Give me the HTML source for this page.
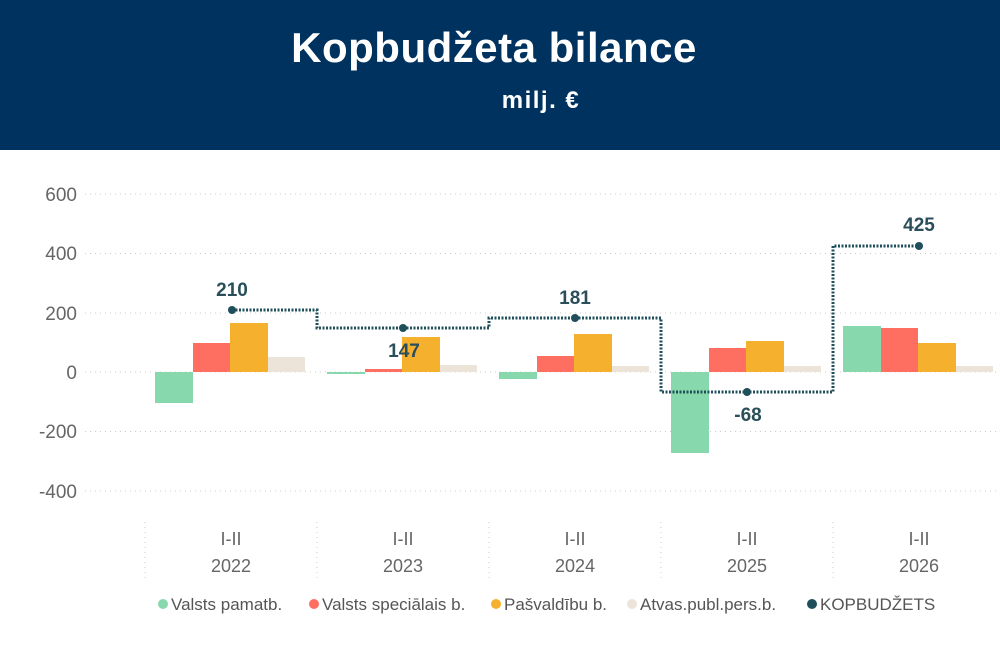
<!DOCTYPE html>
<html><head><meta charset="utf-8"><style>
html,body{margin:0;padding:0;background:#fff;}
svg{display:block;font-family:"Liberation Sans","DejaVu Sans",sans-serif;}
</style></head><body>
<svg width="1000" height="667" viewBox="0 0 1000 667">
<rect x="0" y="0" width="1000" height="150" fill="#00325F"/>
<text x="494" y="62" text-anchor="middle" fill="#fff" font-size="42" font-weight="bold" letter-spacing="0.5">Kopbudžeta bilance</text>
<text x="541" y="108" text-anchor="middle" fill="#fff" font-size="24" font-weight="bold" letter-spacing="1.5">milj. €</text>
<g stroke="#ccc" stroke-dasharray="1 4" stroke-width="1">
<line x1="85" y1="194" x2="1000" y2="194"/>
<line x1="85" y1="253.5" x2="1000" y2="253.5"/>
<line x1="85" y1="313" x2="1000" y2="313"/>
<line x1="85" y1="372" x2="1000" y2="372"/>
<line x1="85" y1="431.5" x2="1000" y2="431.5"/>
<line x1="85" y1="491" x2="1000" y2="491"/>
<line x1="145" y1="522" x2="145" y2="580"/>
<line x1="317" y1="522" x2="317" y2="580"/>
<line x1="489" y1="522" x2="489" y2="580"/>
<line x1="661" y1="522" x2="661" y2="580"/>
<line x1="833" y1="522" x2="833" y2="580"/>
</g>
<g fill="#666" font-size="19" text-anchor="end">
<text x="77" y="201">600</text><text x="77" y="260">400</text><text x="77" y="320">200</text>
<text x="77" y="379">0</text><text x="77" y="438">-200</text><text x="77" y="498">-400</text>
</g>
<g>
<rect x="155" y="372" width="38" height="31" fill="#88D8AD"/>
<rect x="193" y="343" width="37" height="29" fill="#FF6F61"/>
<rect x="230" y="323" width="38" height="49" fill="#F5B02E"/>
<rect x="268" y="357" width="37" height="15" fill="#EDE4D9"/>
<rect x="327" y="372" width="38" height="2" fill="#88D8AD"/>
<rect x="365" y="369" width="37" height="3" fill="#FF6F61"/>
<rect x="402" y="337" width="38" height="35" fill="#F5B02E"/>
<rect x="440" y="365" width="37" height="7" fill="#EDE4D9"/>
<rect x="499" y="372" width="38" height="7" fill="#88D8AD"/>
<rect x="537" y="356" width="37" height="16" fill="#FF6F61"/>
<rect x="574" y="334" width="38" height="38" fill="#F5B02E"/>
<rect x="612" y="366" width="37" height="6" fill="#EDE4D9"/>
<rect x="671" y="372" width="38" height="81" fill="#88D8AD"/>
<rect x="709" y="348" width="37" height="24" fill="#FF6F61"/>
<rect x="746" y="341" width="38" height="31" fill="#F5B02E"/>
<rect x="784" y="366" width="37" height="6" fill="#EDE4D9"/>
<rect x="843" y="326" width="38" height="46" fill="#88D8AD"/>
<rect x="881" y="328" width="37" height="44" fill="#FF6F61"/>
<rect x="918" y="343" width="38" height="29" fill="#F5B02E"/>
<rect x="956" y="366" width="37" height="6" fill="#EDE4D9"/>
</g>
<polyline fill="none" stroke="#1E4F5A" stroke-width="3" stroke-dasharray="2 1.5"
points="232,310 317,310 317,328 489,328 489,318 661,318 661,392 833,392 833,246 919,246"/>
<g fill="#1E4F5A">
<circle cx="232" cy="310" r="4"/><circle cx="403" cy="328" r="4"/><circle cx="575" cy="318" r="4"/>
<circle cx="747" cy="392" r="4"/><circle cx="919" cy="246" r="4"/>
</g>
<g fill="#2A4F5A" font-size="19" font-weight="bold" text-anchor="middle">
<text x="232" y="296">210</text><text x="404" y="357">147</text><text x="575" y="304">181</text>
<text x="748" y="421">-68</text><text x="919" y="231">425</text>
</g>
<g fill="#666" font-size="18" text-anchor="middle">
<text x="231" y="545">I-II</text><text x="231" y="572">2022</text>
<text x="403" y="545">I-II</text><text x="403" y="572">2023</text>
<text x="575" y="545">I-II</text><text x="575" y="572">2024</text>
<text x="747" y="545">I-II</text><text x="747" y="572">2025</text>
<text x="919" y="545">I-II</text><text x="919" y="572">2026</text>
</g>
<g font-size="17" fill="#555">
<circle cx="163" cy="604" r="5" fill="#88D8AD"/><text x="171" y="610">Valsts pamatb.</text>
<circle cx="314" cy="604" r="5" fill="#FF6F61"/><text x="322" y="610">Valsts speciālais b.</text>
<circle cx="496" cy="604" r="5" fill="#F5B02E"/><text x="504" y="610">Pašvaldību b.</text>
<circle cx="632" cy="604" r="5" fill="#EDE4D9"/><text x="640" y="610">Atvas.publ.pers.b.</text>
<circle cx="812" cy="604" r="5" fill="#1E4F5A"/><text x="820" y="610">KOPBUDŽETS</text>
</g>
</svg>
</body></html>
